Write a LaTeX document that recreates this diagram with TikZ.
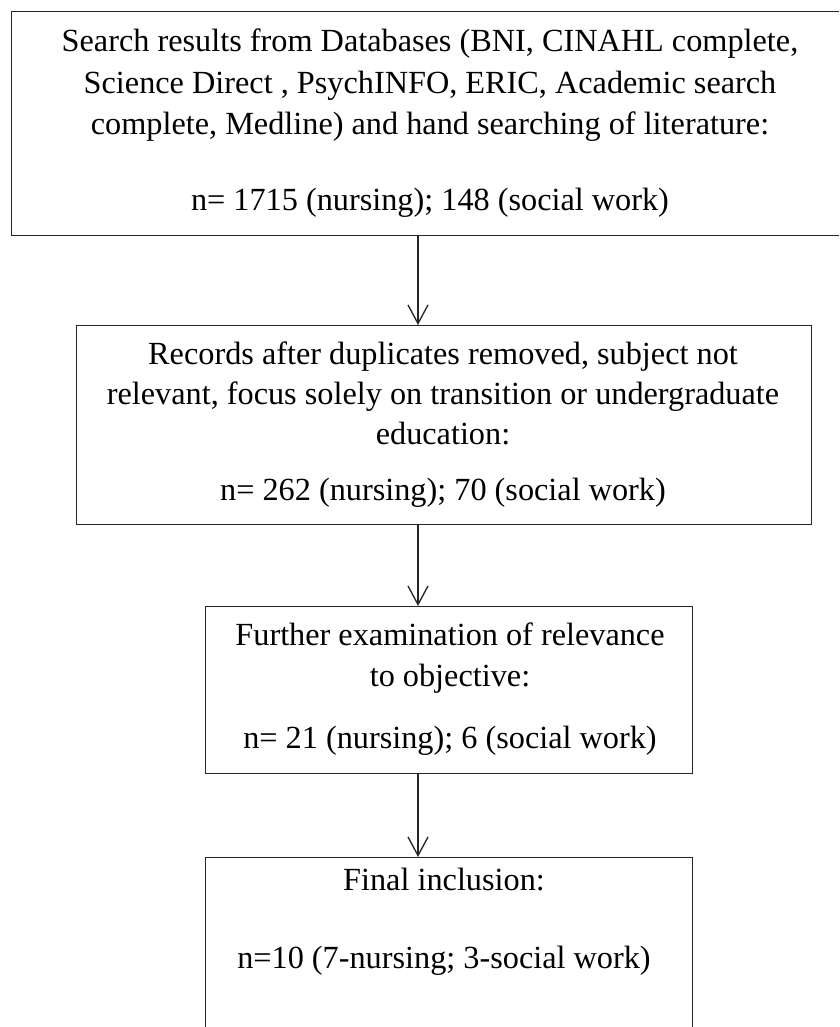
\documentclass[tikz,border=0pt]{standalone}
\usepackage{fontspec}
\setmainfont{Liberation Serif}
\usetikzlibrary{arrows.meta}
\begin{document}
\begin{tikzpicture}[x=0.75pt,y=-0.75pt,
  box/.style={draw=black!85, line width=1.1pt, rectangle, inner sep=0pt, anchor=north west},
  txt/.style={anchor=base, inner sep=0pt, font=\fontsize{24.2}{29}\selectfont},
  arr/.style={draw=black!85, line width=1pt, -{Straight Barb[length=14pt,width=15pt]}}]
\useasboundingbox (0,0) rectangle (839,1027);
\clip (0,0) rectangle (839,1027);
% boxes
\node[box, minimum width=625.5pt, minimum height=168pt] (b1) at (11,11) {};
\node[box, minimum width=551.25pt, minimum height=149.25pt] (b2) at (76,325) {};
\node[box, minimum width=365.25pt, minimum height=125.25pt] (b3) at (205,606) {};
\node[box, minimum width=365.25pt, minimum height=150pt] (b4) at (205,857) {};
% texts
\node[txt] (t11) at (430,52) {Search results from Databases (BNI, CINAHL complete,};
\node[txt] (t12) at (430,93.5) {Science Direct , PsychINFO, ERIC, Academic search};
\node[txt] (t13) at (430,135) {complete, Medline) and hand searching of literature:};
\node[txt] (t14) at (430,210) {n= 1715 (nursing); 148 (social work)};
\node[txt] (t21) at (443,364) {Records after duplicates removed, subject not};
\node[txt] (t22) at (443,404) {relevant, focus solely on transition or undergraduate};
\node[txt] (t23) at (443,444) {education:};
\node[txt] (t24) at (443,500) {n= 262 (nursing); 70 (social work)};
\node[txt] (t31) at (450,645) {Further examination of relevance};
\node[txt] (t32) at (450,686.5) {to objective:};
\node[txt] (t33) at (450,748) {n= 21 (nursing); 6 (social work)};
\node[txt] (t41) at (444,890) {Final inclusion:};
\node[txt] (t42) at (444,968) {n=10 (7-nursing; 3-social work)};
% arrows
\coordinate (ax) at (418,0);
\draw[arr] (b1.south -| ax) -- (b2.north -| ax);
\draw[arr] (b2.south -| ax) -- (b3.north -| ax);
\draw[arr] (b3.south -| ax) -- (b4.north -| ax);
\end{tikzpicture}
\end{document}
